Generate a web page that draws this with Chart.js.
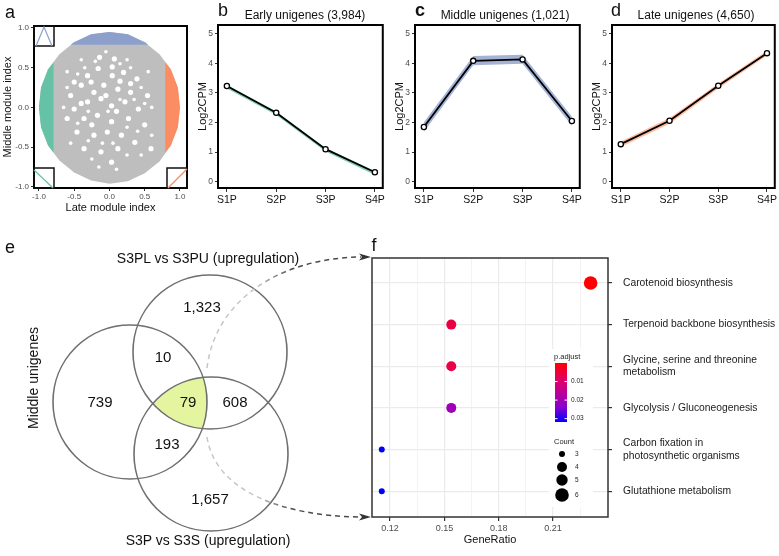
<!DOCTYPE html>
<html lang="en">
<head>
  <meta charset="UTF-8">
  <title>Module expression and enrichment</title>
  <script src="https://cdn.jsdelivr.net/npm/chart.js"></script>
  <style>
    body { margin: 0; background: #fff; }
    #page { position: relative; width: 779px; height: 556px; overflow: hidden;
            font-family: "Liberation Sans", Arial, Helvetica, sans-serif; color: #111; }
    #page canvas { position: absolute; }
    .txt { position: absolute; white-space: nowrap; transform: translate(-50%, -50%); }
    .tag { font-size: 18px; }
    .ttl { font-size: 12px; }
    .set { font-size: 14px; }
  </style>
</head>
<body>
<div id="page">
  <canvas id="panelA" width="200" height="225" style="left:0;top:0"></canvas>
  <canvas id="panelB" width="197" height="225" style="left:190px;top:0"></canvas>
  <canvas id="panelC" width="197" height="225" style="left:387px;top:0"></canvas>
  <canvas id="panelD" width="195" height="225" style="left:584px;top:0"></canvas>
  <canvas id="panelE" width="375" height="321" style="left:0;top:235px"></canvas>
  <canvas id="panelF" width="414" height="321" style="left:365px;top:235px"></canvas>

  <div class="txt tag" style="left:10px;top:12px">a</div>
  <div class="txt tag" style="left:223px;top:10px">b</div>
  <div class="txt tag" style="left:420px;top:10px;font-weight:bold">c</div>
  <div class="txt tag" style="left:616px;top:10px">d</div>
  <div class="txt tag" style="left:10px;top:247px">e</div>
  <div class="txt tag" style="left:374px;top:245px">f</div>

  <div class="txt ttl" style="left:305px;top:15px">Early unigenes (3,984)</div>
  <div class="txt ttl" style="left:505px;top:15px">Middle unigenes (1,021)</div>
  <div class="txt ttl" style="left:696px;top:15px">Late unigenes (4,650)</div>

  <div class="txt set" style="left:208px;top:258px">S3PL vs S3PU (upregulation)</div>
  <div class="txt set" style="left:208px;top:540px">S3P vs S3S (upregulation)</div>
  <div class="txt set" style="left:33px;top:378px;transform:translate(-50%,-50%) rotate(-90deg)">Middle unigenes</div>
</div>
<script>
  // ---------- data ----------
  // a: module index plane (outline of the point cloud and its coloured ends)
  const moduleTicks = [-1.0, -0.5, 0.0, 0.5, 1.0];
  const cloudUpper = [[-1, 0], [-0.97, 0.25], [-0.87, 0.48], [-0.71, 0.67], [-0.5, 0.82], [-0.26, 0.92], [0, 0.95],
                      [0.26, 0.92], [0.5, 0.82], [0.71, 0.67], [0.87, 0.48], [0.97, 0.25], [1, 0]];
  const cloudLower = [[-1, 0], [-0.97, -0.25], [-0.87, -0.48], [-0.71, -0.67], [-0.5, -0.82], [-0.26, -0.92], [0, -0.96],
                      [0.26, -0.93], [0.5, -0.83], [0.71, -0.68], [0.87, -0.48], [0.97, -0.25], [1, 0]];
  const earlyEndUpper = [[-1, 0], [-0.97, 0.25], [-0.87, 0.48], [-0.79, 0.57]];
  const earlyEndLower = [[-1, 0], [-0.97, -0.25], [-0.87, -0.48], [-0.79, -0.57]];
  const lateEndUpper = [[0.79, 0.57], [0.87, 0.48], [0.97, 0.25], [1, 0]];
  const lateEndLower = [[0.79, -0.57], [0.87, -0.48], [0.97, -0.25], [1, 0]];
  const middleEnd = [[-0.55, 0.79], [-0.5, 0.82], [-0.26, 0.92], [0, 0.95], [0.26, 0.92], [0.5, 0.82], [0.55, 0.79]];
  // empty patches inside the cloud
  const cloudGaps = [[-0.14, 0.63], [0.07, 0.61], [-0.31, 0.40], [-0.16, 0.49], [0.04, 0.51], [0.20, 0.44], [0.39, 0.36],
                     [-0.40, 0.28], [-0.22, 0.19], [-0.08, 0.28], [0.12, 0.23], [0.30, 0.19], [0.54, 0.15], [-0.55, 0.15],
                     [-0.50, -0.02], [-0.31, 0.07], [-0.12, 0.11], [0.03, 0.02], [0.22, 0.07], [0.41, -0.02], [-0.60, -0.14],
                     [-0.36, -0.14], [-0.17, -0.10], [0.03, -0.18], [0.27, -0.14], [0.50, -0.22], [-0.46, -0.31], [-0.22, -0.35],
                     [-0.03, -0.31], [0.17, -0.35], [0.36, -0.44], [-0.36, -0.52], [-0.12, -0.56], [0.12, -0.52], [0.59, -0.52],
                     [0.03, -0.69], [-0.50, 0.32], [-0.26, 0.32], [0.04, 0.40], [-0.05, 0.15], [0.10, -0.05], [-0.25, -0.22],
                     [0.30, 0.30], [-0.40, 0.05], [0.15, 0.33]];
  const cloudSpecks = [[-0.20, 0.58], [0.15, 0.55], [-0.35, 0.50], [0.30, 0.50], [-0.45, 0.42], [0.45, 0.25], [-0.60, 0.25],
                       [-0.65, 0.00], [0.60, 0.00], [0.50, 0.05], [-0.30, -0.05], [0.15, 0.10], [-0.02, -0.05], [0.35, 0.10],
                       [-0.45, -0.20], [0.40, -0.30], [-0.30, -0.42], [0.25, -0.25], [-0.10, -0.45], [0.05, -0.45],
                       [0.25, -0.60], [-0.25, -0.65], [0.45, -0.60], [-0.55, -0.45], [0.60, -0.35], [-0.05, 0.70],
                       [0.25, 0.60], [-0.40, 0.60], [0.55, 0.45], [-0.60, 0.45], [0.10, -0.78], [-0.15, -0.75]];

  // b-d: expression profiles
  const stageLabels = ['S1P', 'S2P', 'S3P', 'S4P'];
  const log2Ticks = [0, 1, 2, 3, 4, 5];
  const earlyMean  = [3.23, 2.33, 1.10, 0.32];
  const earlyLower = [3.15, 2.25, 1.02, 0.23];
  const earlyUpper = [3.27, 2.37, 1.14, 0.36];
  const middleMean  = [1.85, 4.08, 4.13, 2.05];
  const middleLower = [1.69, 3.93, 3.98, 1.89];
  const middleUpper = [2.01, 4.24, 4.29, 2.20];
  const lateMean  = [1.27, 2.06, 3.24, 4.34];
  const lateLower = [1.17, 1.96, 3.15, 4.26];
  const lateUpper = [1.36, 2.15, 3.32, 4.42];

  // e: Venn counts (S3PL-only, S3PL&Middle, Middle-only, all three, S3PL&S3P, Middle&S3P, S3P-only)
  const vennRegionCounts = [1323, 10, 739, 79, 608, 193, 1657];

  // f: KEGG enrichment
  const pathways = ['Carotenoid biosynthesis', 'Terpenoid backbone biosynthesis',
                    ['Glycine, serine and threonine', 'metabolism'], 'Glycolysis / Gluconeogenesis',
                    ['Carbon fixation in', 'photosynthetic organisms'], 'Glutathione metabolism'];
  const geneRatio = [0.2308, 0.1538, 0.1538, 0.1538, 0.1154, 0.1154];
  const geneCount = [6, 4, 4, 4, 3, 3];
  const pAdjust = [0.0002, 0.0058, 0.0062, 0.0205, 0.0318, 0.0318];
  const ratioTicks = [0.12, 0.15, 0.18, 0.21];
  const ratioMinor = [0.135, 0.165, 0.195, 0.225];
  const pTicks = [0.01, 0.02, 0.03];
  const countLegend = [3, 4, 5, 6];

  // ---------- layout / style ----------
  const FONT = '"Liberation Sans", Arial, Helvetica, sans-serif';
  Chart.defaults.font.family = FONT;
  Chart.defaults.animation = false;
  Chart.defaults.responsive = false;
  Chart.defaults.layout.autoPadding = false;
  Chart.defaults.plugins.legend.display = false;
  Chart.defaults.plugins.tooltip.enabled = false;

  const VENN_R = 77;
  const vennLayout = [{ x: 210, y: 117 }, { x: 130, y: 167 }, { x: 211, y: 219 }];
  const vennCountPos = [[202, 73], [163, 123], [100, 168], [188, 168], [235, 168], [167, 210], [210, 265]];

  const P_MIN = 0, P_MAX = 0.0318;
  const pStops = [[0, [255, 0, 0]], [0.25, [228, 0, 92]], [0.5, [190, 0, 150]], [0.75, [135, 0, 205]], [1, [0, 0, 255]]];
  const countSize = { 3: 3, 4: 5, 5: 5.7, 6: 6.8 };

  function pColor(p) {
    const t = Math.min(1, Math.max(0, (p - P_MIN) / (P_MAX - P_MIN)));
    for (let i = 1; i < pStops.length; i++) {
      const [t1, c1] = pStops[i], [t0, c0] = pStops[i - 1];
      if (t <= t1) {
        const k = (t - t0) / (t1 - t0);
        return 'rgb(' + c0.map((v, j) => Math.round(v + (c1[j] - v) * k)).join(',') + ')';
      }
    }
    return 'rgb(0,0,255)';
  }

  const fixedTicks = values => scale => { scale.ticks = values.map(v => ({ value: v })); };
  const toPts = pairs => pairs.map(([x, y]) => ({ x, y }));

  // black frame round each panel
  Chart.register({
    id: 'frame',
    defaults: { color: '#000', width: 2 },
    afterDraw(chart, args, opts) {
      const { ctx, chartArea: a } = chart;
      ctx.save();
      ctx.strokeStyle = opts.color;
      ctx.lineWidth = opts.width;
      ctx.strokeRect(a.left, a.top, a.right - a.left, a.bottom - a.top);
      ctx.restore();
    }
  });

  // ---------- a ----------
  const moduleKey = {
    id: 'moduleKey',
    afterDraw(chart) {
      const { ctx, chartArea: a } = chart;
      const s = 20;
      ctx.save();
      ctx.lineWidth = 1.5;
      ctx.strokeStyle = '#111';
      ctx.strokeRect(a.left, a.top, s, s);
      ctx.strokeRect(a.left, a.bottom - s, s, s);
      ctx.strokeRect(a.right - s, a.bottom - s, s, s);
      ctx.lineWidth = 1.2;
      ctx.strokeStyle = '#8da0cb';
      ctx.beginPath();
      ctx.moveTo(a.left + 2, a.top + s); ctx.lineTo(a.left + 10, a.top + 1); ctx.lineTo(a.left + 18, a.top + s);
      ctx.stroke();
      ctx.strokeStyle = '#66c2a5';
      ctx.beginPath(); ctx.moveTo(a.left, a.bottom - s + 2); ctx.lineTo(a.left + s - 1, a.bottom); ctx.stroke();
      ctx.strokeStyle = '#fc8d62';
      ctx.beginPath(); ctx.moveTo(a.right - s + 1, a.bottom); ctx.lineTo(a.right, a.bottom - s + 1); ctx.stroke();
      ctx.restore();
    }
  };
  const area = (pairs, color, fill) => ({ data: toPts(pairs), backgroundColor: color, borderColor: 'transparent',
                                          borderWidth: 0, pointRadius: 0, fill: fill });
  const specks = (pairs, r) => ({ data: toPts(pairs), showLine: false, pointRadius: r,
                                  pointBackgroundColor: '#fff', pointBorderWidth: 0 });

  // datasets listed top-most first (Chart.js paints the first dataset last)
  new Chart(document.getElementById('panelA'), {
    type: 'line',
    data: {
      datasets: [
        area(middleEnd, '#8da0cb', { value: 0.79 }),
        area(lateEndUpper, '#fc8d62', 'origin'),
        area(lateEndLower, '#fc8d62', { value: 0.01 }),
        area(earlyEndUpper, '#66c2a5', 'origin'),
        area(earlyEndLower, '#66c2a5', { value: 0.01 }),
        specks(cloudGaps, 2.6),
        specks(cloudSpecks, 1.8),
        area(cloudUpper, '#bebebe', 'origin'),
        area(cloudLower, '#bebebe', { value: 0.01 })
      ]
    },
    options: {
      layout: { padding: { top: 26, right: 13, left: 0, bottom: 0 } },
      scales: {
        x: {
          type: 'linear', min: -1.07, max: 1.1, afterBuildTicks: fixedTicks(moduleTicks),
          ticks: { callback: v => v.toFixed(1), font: { size: 8 }, color: '#4d4d4d', padding: 1, autoSkip: false, maxRotation: 0 },
          grid: { drawOnChartArea: false, tickLength: 3, tickColor: '#333' },
          border: { display: false },
          title: { display: true, text: 'Late module index', font: { size: 11 }, color: '#111', padding: { top: 0, bottom: 10 } },
          afterFit: s => { s.height = 37; }
        },
        y: {
          min: -1.015, max: 1.025, afterBuildTicks: fixedTicks(moduleTicks),
          ticks: { callback: v => v.toFixed(1), font: { size: 8 }, color: '#4d4d4d', padding: 2 },
          grid: { drawOnChartArea: false, tickLength: 3, tickColor: '#333' },
          border: { display: false },
          title: { display: true, text: 'Middle module index', font: { size: 11 }, color: '#111', padding: { top: 1, bottom: 0 } },
          afterFit: s => { s.width = 34; }
        }
      }
    },
    plugins: [moduleKey]
  });

  // ---------- b, c, d ----------
  function profilePanel(id, mean, lower, upper, ribbon, padRight) {
    const line = arr => arr.map((y, i) => ({ x: i, y: y }));
    return new Chart(document.getElementById(id), {
      type: 'line',
      data: {
        datasets: [
          { data: line(mean), fill: false, borderColor: '#000', borderWidth: 1.8, pointRadius: 2.6,
            pointBackgroundColor: '#fff', pointBorderColor: '#000', pointBorderWidth: 1.3 },
          { data: line(upper), fill: '+1', backgroundColor: ribbon, borderColor: 'transparent', borderWidth: 0, pointRadius: 0 },
          { data: line(lower), fill: false, borderColor: 'transparent', borderWidth: 0, pointRadius: 0 }
        ]
      },
      options: {
        layout: { padding: { top: 25, right: padRight, left: 0, bottom: 0 } },
        scales: {
          x: {
            type: 'linear', min: -0.18, max: 3.16, afterBuildTicks: fixedTicks(stageLabels.map((_, i) => i)),
            ticks: { callback: v => stageLabels[v], font: { size: 10.5 }, color: '#111', padding: 2, autoSkip: false, maxRotation: 0 },
            grid: { drawOnChartArea: false, tickLength: 4, tickColor: '#333' },
            border: { display: false },
            afterFit: s => { s.height = 37; }
          },
          y: {
            min: -0.21, max: 5.29, afterBuildTicks: fixedTicks(log2Ticks),
            ticks: { font: { size: 8.5 }, color: '#4d4d4d', padding: 2 },
            grid: { drawOnChartArea: false, tickLength: 3, tickColor: '#333' },
            border: { display: false },
            title: { display: true, text: 'Log2CPM', font: { size: 11 }, color: '#111', padding: { top: 6.5, bottom: 0 } },
            afterFit: s => { s.width = 28; }
          }
        }
      }
    });
  }
  profilePanel('panelB', earlyMean, earlyLower, earlyUpper, 'rgba(102,194,165,0.8)', 4);
  profilePanel('panelC', middleMean, middleLower, middleUpper, 'rgba(141,160,203,0.8)', 4);
  profilePanel('panelD', lateMean, lateLower, lateUpper, 'rgba(252,141,98,0.6)', 2);

  // ---------- e ----------
  const vennDecor = {
    id: 'vennDecor',
    beforeDatasetsDraw(chart) {
      const { ctx, scales: { x, y } } = chart;
      ctx.save();
      vennLayout.forEach(c => {
        ctx.beginPath();
        ctx.arc(x.getPixelForValue(c.x), y.getPixelForValue(c.y), VENN_R, 0, Math.PI * 2);
        ctx.clip();
      });
      ctx.fillStyle = '#e4f5a0';
      ctx.fillRect(0, 0, chart.width, chart.height);
      ctx.restore();
    },
    afterDatasetsDraw(chart) {
      const { ctx, scales: { x, y } } = chart;
      ctx.save();
      // dashed links towards panel f
      const link = (y0, c1, c2, y1) => {
        const g = ctx.createLinearGradient(258, 0, 292, 0);
        g.addColorStop(0, '#c6c6c6');
        g.addColorStop(1, '#4a4a4a');
        ctx.strokeStyle = g;
        ctx.lineWidth = 1.5;
        ctx.setLineDash([5, 4]);
        ctx.beginPath();
        ctx.moveTo(207, y0);
        ctx.bezierCurveTo(215, c1, 280, c2, 361, y1);
        ctx.stroke();
        ctx.setLineDash([]);
        ctx.fillStyle = '#333';
        ctx.beginPath();
        ctx.moveTo(371, y1); ctx.lineTo(359, y1 - 3.5); ctx.lineTo(362, y1); ctx.lineTo(359, y1 + 3.5);
        ctx.closePath(); ctx.fill();
      };
      link(133, 65, 23, 22);
      link(202, 255, 281, 282);
      // region counts
      ctx.font = '15px ' + FONT;
      ctx.fillStyle = '#111';
      ctx.textAlign = 'center';
      ctx.textBaseline = 'middle';
      vennRegionCounts.forEach((n, i) => {
        const p = vennCountPos[i];
        ctx.fillText(n.toLocaleString('en-US'), x.getPixelForValue(p[0]), y.getPixelForValue(p[1]));
      });
      ctx.restore();
    }
  };

  new Chart(document.getElementById('panelE'), {
    type: 'scatter',
    data: {
      datasets: [{ data: vennLayout, pointRadius: VENN_R, pointBackgroundColor: 'rgba(0,0,0,0)',
                   pointBorderColor: '#6f6f6f', pointBorderWidth: 1.6, clip: false }]
    },
    options: {
      layout: { padding: 0, autoPadding: false },
      scales: {
        x: { display: false, min: 0, max: 375 },
        y: { display: false, min: 0, max: 321, reverse: true }
      },
      plugins: { frame: false }
    },
    plugins: [vennDecor]
  });

  // ---------- f ----------
  const isMajor = v => ratioTicks.some(t => Math.abs(t - v) < 1e-6);
  const enrichLegend = {
    id: 'enrichLegend',
    beforeDatasetsDraw(chart) {
      const { ctx } = chart;
      ctx.save();
      ctx.fillStyle = '#fff';
      ctx.fillRect(184, 114, 44, 158);
      const bx = 190, by = 128, bw = 12, bh = 59;
      const grad = ctx.createLinearGradient(0, by, 0, by + bh);
      pStops.forEach(([t, c]) => grad.addColorStop(t, 'rgb(' + c.join(',') + ')'));
      ctx.fillStyle = grad;
      ctx.fillRect(bx, by, bw, bh);
      ctx.fillStyle = '#222';
      ctx.textAlign = 'left';
      ctx.textBaseline = 'middle';
      ctx.font = '7.5px ' + FONT;
      ctx.fillText('p.adjust', 189, 122);
      ctx.fillText('Count', 189, 207);
      ctx.font = '6.5px ' + FONT;
      ctx.strokeStyle = '#fff';
      ctx.lineWidth = 1;
      pTicks.forEach(p => {
        const yy = by + (p - P_MIN) / (P_MAX - P_MIN) * bh;
        ctx.beginPath();
        ctx.moveTo(bx, yy); ctx.lineTo(bx + 2.5, yy);
        ctx.moveTo(bx + bw - 2.5, yy); ctx.lineTo(bx + bw, yy);
        ctx.stroke();
        ctx.fillText(p.toFixed(2), 206, yy);
      });
      const rowY = [219, 232, 245, 260];
      countLegend.forEach((n, i) => {
        ctx.fillStyle = '#000';
        ctx.beginPath();
        ctx.arc(197, rowY[i], countSize[n], 0, Math.PI * 2);
        ctx.fill();
        ctx.fillStyle = '#222';
        ctx.fillText(String(n), 210, rowY[i]);
      });
      ctx.restore();
    }
  };

  new Chart(document.getElementById('panelF'), {
    type: 'scatter',
    data: {
      datasets: [{
        data: geneRatio.map((g, i) => ({ x: g, y: i })),
        pointRadius: c => countSize[geneCount[c.dataIndex]],
        pointBackgroundColor: c => pColor(pAdjust[c.dataIndex]),
        pointBorderWidth: 0
      }]
    },
    options: {
      layout: { padding: { left: 7, top: 23, right: 0, bottom: 0 } },
      scales: {
        x: {
          type: 'linear', min: 0.11, max: 0.2404,
          afterBuildTicks: fixedTicks(ratioTicks.concat(ratioMinor).sort((p, q) => p - q)),
          ticks: { callback: v => isMajor(v) ? v.toFixed(2) : '', font: { size: 9 }, color: '#4d4d4d', padding: 2,
                   autoSkip: false, maxRotation: 0 },
          grid: {
            color: '#ebebeb',
            lineWidth: c => (c.tick && isMajor(c.tick.value)) ? 1.2 : 0.6,
            tickLength: 4,
            tickColor: c => (c.tick && isMajor(c.tick.value)) ? '#333' : 'rgba(0,0,0,0)'
          },
          border: { display: false },
          title: { display: true, text: 'GeneRatio', font: { size: 11 }, color: '#111', padding: { top: 0, bottom: 9 } },
          afterFit: s => { s.height = 39; }
        },
        y: {
          type: 'linear', position: 'right', reverse: true, min: -0.6, max: 5.62,
          afterBuildTicks: fixedTicks(pathways.map((_, i) => i)),
          ticks: { callback: v => pathways[v], font: { size: 10.3 }, color: '#1a1a1a', padding: 11, autoSkip: false },
          grid: { color: '#ebebeb', lineWidth: 1.2, tickLength: 4, tickColor: '#333' },
          border: { display: false },
          afterFit: s => { s.width = 171; }
        }
      },
      plugins: { frame: { color: '#333', width: 1.5 } }
    },
    plugins: [enrichLegend]
  });
</script>
</body>
</html>
